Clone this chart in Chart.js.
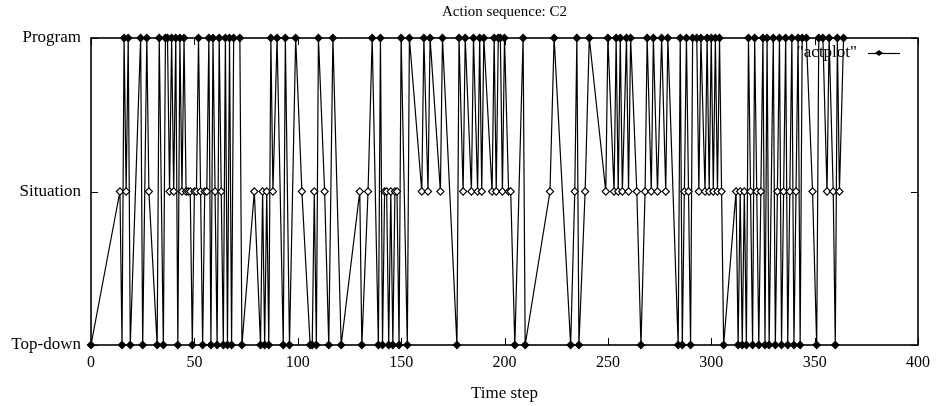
<!DOCTYPE html>
<html>
<head>
<meta charset="utf-8">
<script src="https://cdn.jsdelivr.net/npm/chart.js@4/dist/chart.umd.min.js"></script>
<style>
  html, body { margin: 0; padding: 0; background: #fff; }
  #wrap { width: 946px; height: 406px; }
</style>
</head>
<body>
<div id="wrap"><canvas id="c" width="946" height="406"></canvas></div>
<script>
// ---- data ----
const chartTitle = 'Action sequence: C2';
const xAxisTitle = 'Time step';
const seriesName = '"actplot"';
const levelCodes = ['T', 'S', 'P'];
const levelLabels = ['Top-down', 'Situation', 'Program'];
const xTicks = [0, 50, 100, 150, 200, 250, 300, 350, 400];

const steps = [
  0, 14, 15, 16, 17, 18, 19, 24, 25, 27, 28, 32, 33, 35,
  36, 37, 38, 39, 40, 41, 42, 43, 44, 45, 46, 47, 48, 49, 50, 51, 52, 53, 54, 55, 56, 57, 58, 59, 60, 61, 62, 63, 64, 65, 66, 67, 68, 69, 72, 73,
  79, 82, 83, 84, 85, 86, 87, 88, 90, 93, 94, 96, 99, 102, 106, 107, 108, 109, 110, 113, 115, 117, 121, 130, 131,
  134, 136, 139, 140, 141, 142, 143, 144, 145, 146, 147, 148, 149, 150, 153, 154, 160, 161, 163, 164, 169, 170, 177, 178, 180, 181, 184, 185, 187, 188, 189, 190, 194, 195, 196, 197, 198, 199, 200, 202, 203, 205, 209, 210,
  222, 224, 232, 234, 235, 236, 239, 241, 249, 250, 253, 254, 255, 256, 257, 259, 260, 261, 264, 266, 268, 269, 271, 272, 274, 276, 278, 279, 284, 285, 286, 287, 288, 289, 290,
  291, 293, 294, 295, 297, 298, 299, 300, 301, 302, 303, 304, 305, 306, 312, 313, 314, 315, 316, 317, 318, 319, 320, 321, 322, 323, 324, 325, 326,
  327, 328, 330, 331, 332, 333, 334, 335, 336, 337, 338, 339, 340, 341, 342, 343, 344, 346, 349, 351, 352, 354, 356, 357, 359, 360, 361, 362, 364
];
const actions = [
  'T','S','T','P','S','P','T','P','T','P','S','T','P','T',
  'P','P','S','P','S','P','T','P','S','P','S','S','S','T','S','S','P','S','T','S','S','P','T','P','S','T','P','S','T','P','T','P','T','P','P','T',
  'S','T','S','T','S','T','P','S','P','T','P','T','P','S','T','T','S','T','P','S','T','P','T','S','T',
  'S','P','T','P','T','S','S','T','S','T','S','S','T','P','T','P','S','P','S','P','S','P','T','P','S','P','S','P','S','P','S','P','S','P','S','P','P','S','P','S','S','T','P','T',
  'S','P','T','S','P','T','S','P','S','P','S','P','S','P','S','P','S','P','S','T','S','P','S','P','S','P','S','P','T','P','T','S','P','S','T',
  'P','P','S','P','S','P','S','P','S','P','S','P','S','T','S','T','S','T','S','T','P','S','T','P','S','T','S','P','T',
  'P','T','P','T','S','P','T','S','P','T','S','P','T','S','P','T','P','P','S','T','P','P','S','P','S','T','P','S','P'
];

// ---- chart ----
const FONT = 'Liberation Serif';
const points = steps.map((s, i) => ({ x: s, y: levelCodes.indexOf(actions[i]) }));

const framePlugin = {
  id: 'frame',
  beforeDatasetsDraw(chart) {
    const { ctx, chartArea: a, scales: { x, y } } = chart;
    ctx.save();
    ctx.strokeStyle = '#000';
    ctx.lineWidth = 1;
    const tl = 7;
    ctx.beginPath();
    xTicks.forEach(v => {
      const px = Math.round(x.getPixelForValue(v)) + 0.5;
      ctx.moveTo(px, a.bottom); ctx.lineTo(px, a.bottom - tl);
      ctx.moveTo(px, a.top); ctx.lineTo(px, a.top + tl);
    });
    levelLabels.forEach((_, i) => {
      const py = Math.round(y.getPixelForValue(i)) + 0.5;
      ctx.moveTo(a.left, py); ctx.lineTo(a.left + tl, py);
      ctx.moveTo(a.right, py); ctx.lineTo(a.right - tl, py);
    });
    ctx.stroke();
    // key
    const ky = a.top + 15;
    ctx.fillStyle = '#000';
    ctx.font = '17px "' + FONT + '"';
    ctx.textAlign = 'right';
    ctx.textBaseline = 'middle';
    ctx.fillText(seriesName, a.right - 61, ky);
    ctx.lineWidth = 1.2;
    ctx.beginPath();
    ctx.moveTo(a.right - 50, ky + 0.5); ctx.lineTo(a.right - 18, ky + 0.5);
    ctx.stroke();
    const cx = a.right - 39;
    ctx.beginPath();
    ctx.moveTo(cx - 4, ky); ctx.lineTo(cx, ky - 3); ctx.lineTo(cx + 4, ky); ctx.lineTo(cx, ky + 3);
    ctx.closePath(); ctx.fill();
    ctx.restore();
  },
  afterDatasetsDraw(chart) {
    const { ctx, chartArea: a } = chart;
    ctx.save();
    ctx.strokeStyle = '#000';
    ctx.lineWidth = 1.6;
    ctx.strokeRect(a.left, a.top, a.right - a.left, a.bottom - a.top);
    ctx.restore();
  }
};

new Chart(document.getElementById('c'), {
  type: 'scatter',
  data: {
    datasets: [{
      label: seriesName,
      data: points,
      showLine: true,
      tension: 0,
      borderColor: '#000',
      borderWidth: 1.2,
      pointStyle: 'rectRot',
      pointRadius: 3.6,
      pointBorderWidth: 1.1,
      pointBorderColor: '#000',
      pointBackgroundColor: c => (c.raw && c.raw.y === 1) ? '#fff' : '#000',
      clip: 8
    }]
  },
  options: {
    responsive: false,
    animation: false,
    devicePixelRatio: 1,
    layout: { padding: { left: 0, right: 28, top: 0, bottom: 0 } },
    plugins: {
      legend: { display: false },
      tooltip: { enabled: false },
      title: {
        display: true,
        text: chartTitle,
        fullSize: false,
        color: '#000',
        font: { family: FONT, size: 15, weight: 'normal' },
        padding: { top: 3, bottom: 17 }
      }
    },
    scales: {
      x: {
        type: 'linear',
        min: 0, max: 400,
        afterFit: s => { s.height = 61; },
        afterBuildTicks: s => { s.ticks = xTicks.map(v => ({ value: v })); },
        ticks: { color: '#000', font: { family: FONT, size: 16 }, padding: 8, maxRotation: 0 },
        grid: { display: false, drawTicks: false },
        border: { display: false },
        title: { display: true, text: xAxisTitle, color: '#000', font: { family: FONT, size: 17 }, padding: { top: 0, bottom: 2 } }
      },
      y: {
        type: 'linear',
        min: 0, max: 2,
        afterFit: s => { s.width = 91; },
        afterBuildTicks: s => { s.ticks = levelLabels.map((_, i) => ({ value: i })); },
        ticks: { color: '#000', font: { family: FONT, size: 17 }, padding: 10, callback: v => levelLabels[v] },
        grid: { display: false, drawTicks: false },
        border: { display: false }
      }
    }
  },
  plugins: [framePlugin]
});
</script>
</body>
</html>
